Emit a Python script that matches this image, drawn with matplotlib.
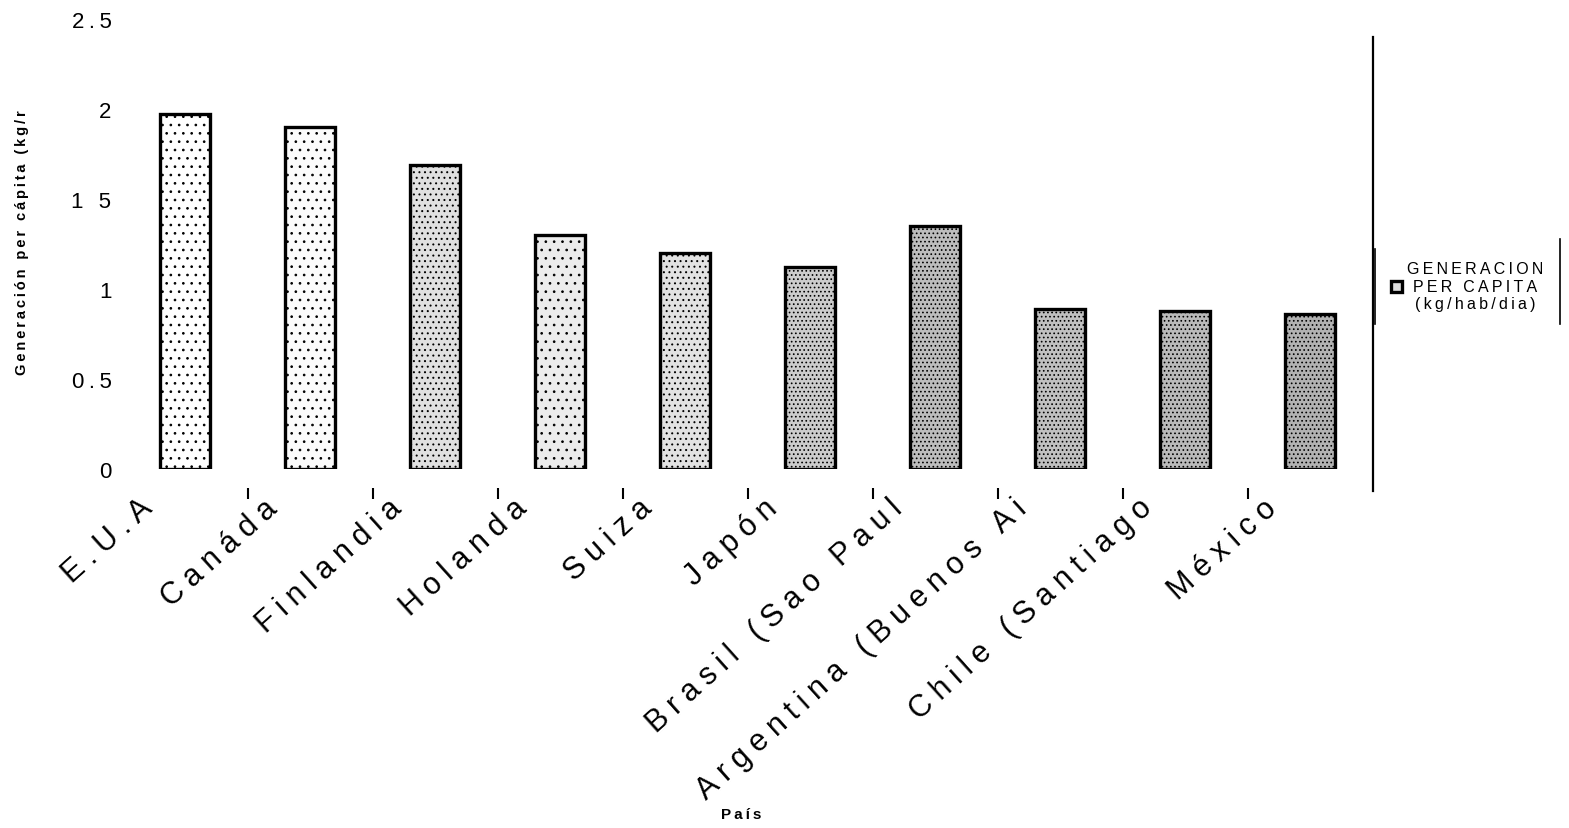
import matplotlib.pyplot as plt
import matplotlib.transforms as mtransforms
import numpy as np
from matplotlib.lines import Line2D

plt.rcParams['font.family'] = ['Liberation Sans', 'DejaVu Sans']
plt.rcParams['hatch.color'] = '#3a3a3a'
plt.rcParams['hatch.linewidth'] = 0.7

# generacion per capita de residuos por pais
paises = ['E.U.A', 'Canáda', 'Finlandia', 'Holanda', 'Suiza', 'Japón',
          'Brasil (Sao Paul', 'Argentina (Buenos Ai', 'Chile (Santiago',
          'México']
generacion = [1.97, 1.90, 1.69, 1.30, 1.20, 1.12, 1.35, 0.89, 0.88, 0.86]
y_ticks = [0, 0.5, 1, 1.5, 2, 2.5]
y_labels = ['0', '0.5', '1', '1 5', '2', '2.5']

# tramas de punteado, cada vez mas densas
tonos = ['#ffffff', '#fbfbfb', '#e0e0e0', '#ececec', '#e2e2e2',
         '#cccccc', '#bdbdbd', '#c0c0c0', '#bababa', '#b2b2b2']
tramas = ['..', '..', '...', '..', '...', '....', '....', '....', '....',
          '....']


def espaciar(s, sep='\u2009'):
    # texto con letras separadas
    return sep.join(s)


fig = plt.figure(figsize=(15.69, 8.29), dpi=100)
ax = fig.add_axes([122.5 / 1569, 1 - 470 / 829, 1250 / 1569, 450 / 829])

x = np.arange(len(paises))
barras = ax.bar(x, generacion, width=0.4, color=tonos, edgecolor='black',
                linewidth=2.4,
                label='\n'.join(espaciar(s) for s in
                                ['GENERACION', 'PER CAPITA', '(kg/hab/dia)']))
for b, t in zip(barras, tramas):
    b.set_hatch(t)

ax.set_xlim(-0.5, len(paises) - 0.5)
ax.set_ylim(0, 2.5)
ax.set_yticks(y_ticks)
ax.set_yticklabels([espaciar(s) for s in y_labels], fontsize=16)
ax.tick_params(axis='y', length=0, pad=8)

# eje x desplazado hacia abajo (solo se ven las marcas entre paises)
ax.spines['bottom'].set_position(('outward', 14))
ax.set_xticks(x)
ax.set_xticklabels([espaciar(s, '\u2005') for s in paises], rotation=42,
                   ha='right', va='center', rotation_mode='anchor',
                   fontsize=22)
ax.tick_params(axis='x', length=0, pad=11)
desplaza = mtransforms.ScaledTranslation(-0.37, 0, fig.dpi_scale_trans)
for lbl in ax.get_xticklabels():
    lbl.set_transform(lbl.get_transform() + desplaza)

ax.set_xticks(np.arange(len(paises) - 1) + 0.5, minor=True)
ax.tick_params(axis='x', which='minor', length=8, width=1.5, direction='out',
               pad=10)

for s in ['top', 'left', 'bottom']:
    ax.spines[s].set_visible(False)
ax.spines['right'].set_linewidth(1.6)
ax.spines['right'].set_bounds(-0.12, 2.4)

fig.text(22 / 1569, 1 - 243 / 829, espaciar('Generación per cápita (kg/r'),
         rotation=90, ha='center', va='center', fontsize=10.5,
         fontweight='bold')
fig.text(741 / 1569, 1 - 815 / 829, espaciar('País'), ha='center',
         va='center', fontsize=11, fontweight='bold')

leg = fig.legend(loc='center', bbox_to_anchor=(1467 / 1569, 1 - 287 / 829),
                 frameon=False, fontsize=11.5, handlelength=0.7,
                 handleheight=0.7, handletextpad=0.3, borderpad=0.3)
for t in leg.get_texts():
    t.set_multialignment('center')
leg.legend_handles[0].set_hatch(None)
leg.legend_handles[0].set_facecolor('#dddddd')

# lineas laterales del recuadro de la leyenda
for xl, y0 in ((1375, 250), (1560, 240)):
    fig.add_artist(Line2D([xl / 1569, xl / 1569],
                          [1 - y0 / 829, 1 - 325 / 829],
                          color='black', linewidth=1.2))

fig.savefig('out.png', dpi=100)
